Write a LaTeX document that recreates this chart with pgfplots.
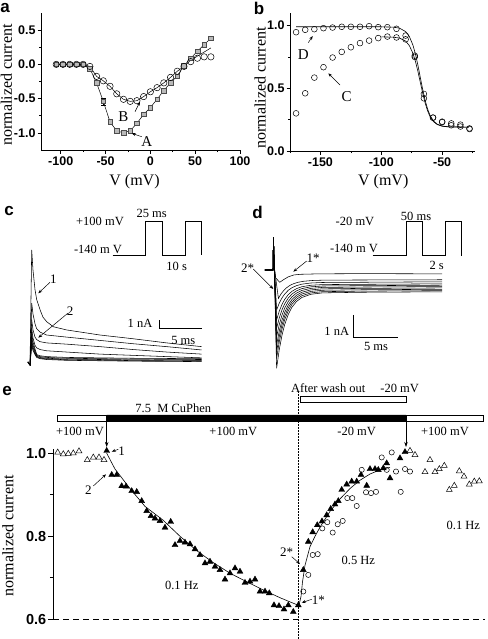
\documentclass[border=0pt]{standalone}
\usepackage{fontspec}
\setmainfont{Liberation Serif}
\setsansfont{Liberation Sans}
\usepackage{pgfplots}
\pgfplotsset{compat=1.18}
\usetikzlibrary{arrows.meta}
\newcommand\fs[1]{\fontsize{#1}{#1}\selectfont}
\pgfplotsset{
 panel/.style={scale only axis, axis x line*=bottom, axis y line*=left,
   tick align=outside, major tick length=3.5pt, minor tick length=2pt,
   every tick/.style={black, line width=0.6pt}, axis line style={line width=0.6pt},
   tick label style={font=\fs{12.5}\bfseries\sffamily},
   yticklabel style={xshift=1.5pt},
   label style={font=\fs{16}},
   /pgf/number format/assume math mode=true, clip=false},
 trace/.style={black, line width=0.55pt},
 hid/.style={hide axis, clip=false},
}
\begin{document}
\begin{tikzpicture}
\path[use as bounding box] (0pt,0pt) rectangle (487pt,-639pt);

% ---------------- panel a
\begin{axis}[panel, at={(41pt,-150pt)}, anchor=south west, width=199pt, height=137pt,
 xmin=-122, xmax=100, ymin=-1.25, ymax=0.75,
 xtick={-100,-50,0,50,100}, ytick={-1,-0.5,0,0.5},
 yticklabels={-1.0,-0.5,0.0,0.5},
 minor xtick={-75,-25,25,75}, minor ytick={-0.75,-0.25,0.25},
 xlabel={V (mV)}, ylabel={normalized current},
 xlabel style={at={(axis description cs:0.47,-0.231)}, anchor=center},
 ylabel style={at={(axis description cs:-0.174,0.474)}, anchor=center}]
\addplot[black, line width=0.5pt, mark=square*, mark size=2.3pt,
  mark options={fill=gray!55, draw=black!70, line width=0.4pt},
  error bars/.cd, y dir=both, y explicit, error bar style={line width=0.5pt}]
 table[x=V, y=I, y error=e] {
V I e
-105 0 0.01
-97.5 0 0.01
-90 0 0.01
-82.5 0 0.01
-75 0 0.01
-67.5 -0.06 0.02
-60 -0.27 0.04
-52.5 -0.54 0.05
-45 -0.84 0.04
-37.5 -0.97 0.03
-30 -1.0 0.03
-22.5 -0.97 0.03
-15 -0.86 0.03
-7.5 -0.73 0.03
0 -0.63 0.03
7.5 -0.51 0.03
15 -0.38 0.03
22.5 -0.27 0.03
30 -0.17 0.03
37.5 -0.02 0.03
45 0.09 0.03
52.5 0.19 0.03
60 0.29 0.03
67.5 0.38 0.03
};
\addplot[black, line width=0.5pt] coordinates {(-105,0)(-97.5,0)(-90,0)(-82.5,0)(-75,0)(-67.5,-0.03)(-60,-0.175)(-52.5,-0.24)(-45,-0.32)(-37.5,-0.43)(-30,-0.51)(-22.5,-0.54)(-15,-0.53)(-7.5,-0.47)(0,-0.40)(7.5,-0.34)(15,-0.27)(22.5,-0.19)(30,-0.10)(37.5,-0.03)(45,0.06)(52.5,0.12)(60,0.18)(67.5,0.24)};
\addplot[only marks, mark=o, mark size=3.2pt, mark options={line width=0.5pt}] coordinates {(-105,0)(-97.5,0)(-90,0)(-82.5,0)(-75,0)(-67.5,-0.03)(-60,-0.175)(-52.5,-0.24)(-45,-0.32)(-37.5,-0.43)(-30,-0.51)(-22.5,-0.54)(-15,-0.53)(-7.5,-0.47)(0,-0.40)(7.5,-0.34)(15,-0.27)(22.5,-0.19)(30,-0.10)(37.5,-0.03)(45,0.04)(52.5,0.09)(60,0.11)(67.5,0.11)};
\end{axis}

% ---------------- panel b
\begin{axis}[panel, at={(290pt,-151pt)}, anchor=south west, width=185pt, height=138pt,
 xmin=-175, xmax=-23, ymin=0, ymax=1.1,
 xtick={-150,-100,-50}, minor xtick={-175,-125,-75,-25},
 ytick={0,0.5,1}, minor ytick={0.25,0.75},
 yticklabels={0.0,0.5,1.0},
 xlabel={V (mV)}, ylabel={normalized current},
 xlabel style={at={(axis description cs:0.504,-0.22)}, anchor=center},
 ylabel style={at={(axis description cs:-0.162,0.457)}, anchor=center}]
\addplot[black, line width=0.6pt] coordinates {(-170,0.99)(-100,0.99)(-90,0.987)(-85,0.979)(-80,0.952)(-77,0.914)(-74,0.844)(-72,0.775)(-70,0.688)(-68,0.59)(-66,0.492)(-64,0.405)(-62,0.336)(-60,0.285)(-57,0.238)(-54,0.2135)(-50,0.199)(-45,0.193)(-28,0.19)};
\addplot[black, line width=0.6pt] coordinates {(-100,0.91)(-90,0.907)(-85,0.90)(-80,0.876)(-77,0.841)(-74,0.779)(-72,0.716)(-70,0.638)(-68,0.55)(-66,0.462)(-64,0.384)(-62,0.321)(-60,0.276)(-57,0.233)(-54,0.211)(-50,0.198)(-45,0.192)(-28,0.19)};
\addplot[only marks, mark=o, mark size=2.9pt, mark options={line width=0.5pt}] coordinates {(-170,0.947)(-162.5,0.966)(-155,0.971)(-147.5,0.979)(-140,0.984)(-132.5,0.99)(-125,0.99)(-117.5,0.99)(-110,0.995)(-102.5,0.987)(-95,0.987)(-87.5,0.974)(-80,0.92)(-72.5,0.75)(-65,0.455)(-57.5,0.266)(-50,0.234)(-42.5,0.22)(-35,0.21)(-27.5,0.18)};
\addplot[only marks, mark=o, mark size=2.9pt, mark options={line width=0.5pt}] coordinates {(-170,0.30)(-162.5,0.46)(-155,0.585)(-147.5,0.668)(-140,0.745)(-132.5,0.79)(-125,0.827)(-117.5,0.86)(-110,0.88)(-102.5,0.90)(-95,0.912)(-87.5,0.905)(-80,0.89)(-72.5,0.76)(-65,0.42)(-57.5,0.266)(-50,0.23)(-42.5,0.205)(-35,0.195)(-27.5,0.175)};
\end{axis}

% ---------------- panel c (t in ms, I in nA)
\begin{axis}[hid, at={(21.5pt,-370.3pt)}, anchor=south west, x=8.5pt, y=8.3pt,
 xmin=-1, xmax=21, ymin=-1, ymax=17.5]
\addplot[trace] coordinates {(-0.24,0)(0,-0.36)(0.2,13.5)(0.35,11.1)(0.59,8.7)(0.79,7.5)(1.18,6.3)(1.53,5.4)(1.96,4.86)(2.74,4.25)(4.32,3.86)(8.24,3.25)(12.15,2.8)(16.08,2.3)(20.2,1.85)};
\addplot[trace] coordinates {(-0.24,0)(0,-0.36)(0.2,7.1)(0.35,5.8)(0.59,4.6)(0.79,4.0)(1.18,3.6)(1.96,3.25)(4.32,3.0)(8.24,2.6)(12.15,2.2)(16.08,1.85)(20.2,1.45)};
\addplot[trace] coordinates {(-0.24,0)(0,-0.36)(0.2,5.1)(0.35,3.9)(0.59,3.0)(0.79,2.7)(1.18,2.45)(1.96,2.3)(4.32,2.15)(8.24,1.85)(12.15,1.5)(16.08,1.2)(20.2,0.95)};
\addplot[trace] coordinates {(-0.24,0)(0,-0.36)(0.2,4.1)(0.35,2.9)(0.59,2.0)(0.79,1.7)(1.18,1.5)(1.96,1.35)(4.32,1.2)(8.24,0.95)(12.15,0.8)(16.08,0.65)(20.2,0.5)};
\addplot[trace] coordinates {(-0.24,0)(0,-0.36)(0.2,3.5)(0.35,2.45)(0.59,1.58)(0.79,0.9)(1.18,0.75)(1.96,0.65)(4.32,0.55)(8.24,0.5)(12.15,0.45)(20.2,0.4)};
\addplot[trace] coordinates {(-0.24,0)(0,-0.36)(0.2,3.0)(0.35,2.1)(0.59,1.35)(0.79,0.8)(1.18,0.65)(1.96,0.55)(4.32,0.45)(8.24,0.4)(12.15,0.35)(20.2,0.3)};
\addplot[trace] coordinates {(-0.24,0)(0,-0.36)(0.2,2.6)(0.35,1.82)(0.59,1.17)(0.79,0.7)(1.18,0.55)(1.96,0.45)(4.32,0.35)(8.24,0.3)(12.15,0.25)(20.2,0.2)};
\addplot[trace] coordinates {(-0.24,0)(0,-0.36)(0.2,2.3)(0.35,1.6)(0.59,1.0)(0.79,0.62)(1.18,0.47)(1.96,0.37)(4.32,0.27)(8.24,0.22)(12.15,0.17)(20.2,0.12)};
\addplot[trace] coordinates {(-0.24,0)(0,-0.36)(0.2,2.0)(0.35,1.4)(0.59,0.9)(0.79,0.55)(1.18,0.4)(1.96,0.3)(4.32,0.2)(8.24,0.15)(12.15,0.1)(20.2,0.05)};
\addplot[black, line width=0.6pt] coordinates {(9.73,12.89)(13.61,12.89)(13.61,16.9)(15.56,16.9)(15.56,12.89)(18.24,12.89)(18.24,16.9)(20.12,16.9)(20.12,12.89)};
\addplot[black, line width=0.6pt] coordinates {(15.18,5.06)(15.18,4.06)(20.2,4.06)};
\end{axis}

% ---------------- panel d (t in ms, I in nA)
\begin{axis}[hid, at={(255pt,-374.42pt)}, anchor=south west, x=9pt, y=22.7pt,
 xmin=-2, xmax=22, ymin=-4.6, ymax=2.5]
\addplot[trace] coordinates {(-0.9,0)(0,0)(0.05,1.45)(0.15,0.1)(0.3,-0.35)(0.75,-0.54)(1.2,-0.42)(1.7,-0.3)(2.3,-0.22)(3,-0.19)(5,-0.17)(10,-0.16)(18.8,-0.17)};
\addplot[trace] coordinates {(-0.9,0)(0,0)(0.05,1.45)(0.15,0.1)(0.6,-1.25)(0.9,-1.048)(1.2,-0.898)(1.5,-0.783)(1.9,-0.675)(2.3,-0.6)(2.8,-0.54)(3.4,-0.496)(4.4,-0.462)(5.7,-0.446)(10,-0.44)(18.8,-0.43)};
\addplot[trace] coordinates {(-0.9,0)(0,0)(0.05,1.45)(0.15,0.1)(0.4,-1.76)(0.7,-1.456)(1.0,-1.229)(1.3,-1.057)(1.7,-0.894)(2.1,-0.782)(2.6,-0.69)(3.2,-0.624)(4.2,-0.573)(5.5,-0.55)(10,-0.54)(18.8,-0.52)};
\addplot[trace] coordinates {(-0.9,0)(0,0)(0.05,1.45)(0.15,0.1)(0.4,-2.2)(0.7,-1.809)(1.0,-1.517)(1.3,-1.296)(1.7,-1.085)(2.1,-0.941)(2.6,-0.823)(3.2,-0.738)(4.2,-0.672)(5.5,-0.643)(10,-0.63)(18.8,-0.61)};
\addplot[trace] coordinates {(-0.9,0)(0,0)(0.05,1.45)(0.15,0.1)(0.4,-2.57)(0.7,-2.102)(1.0,-1.752)(1.3,-1.487)(1.7,-1.235)(2.1,-1.062)(2.6,-0.921)(3.2,-0.82)(4.2,-0.741)(5.5,-0.705)(10,-0.69)(18.8,-0.67)};
\addplot[trace] coordinates {(-0.9,0)(0,0)(0.05,1.45)(0.15,0.1)(0.4,-2.94)(0.7,-2.395)(1.0,-1.987)(1.3,-1.679)(1.7,-1.385)(2.1,-1.184)(2.6,-1.019)(3.2,-0.901)(4.2,-0.809)(5.5,-0.768)(10,-0.75)(18.8,-0.73)};
\addplot[trace] coordinates {(-0.9,0)(0,0)(0.05,1.45)(0.15,0.1)(0.4,-3.3)(0.7,-2.68)(1.0,-2.217)(1.3,-1.866)(1.7,-1.532)(2.1,-1.303)(2.6,-1.116)(3.2,-0.982)(4.2,-0.877)(5.5,-0.83)(10,-0.81)(18.8,-0.79)};
\addplot[trace] coordinates {(-0.9,0)(0,0)(0.05,1.45)(0.15,0.1)(0.4,-3.6)(0.7,-2.92)(1.0,-2.412)(1.3,-2.028)(1.7,-1.662)(2.1,-1.411)(2.6,-1.206)(3.2,-1.058)(4.2,-0.944)(5.5,-0.892)(10,-0.87)(18.8,-0.85)};
\addplot[trace] coordinates {(-0.9,0)(0,0)(0.05,1.45)(0.15,0.1)(0.4,-3.9)(0.7,-3.16)(1.0,-2.608)(1.3,-2.189)(1.7,-1.791)(2.1,-1.518)(2.6,-1.295)(3.2,-1.135)(4.2,-1.01)(5.5,-0.954)(10,-0.93)(18.8,-0.91)};
\addplot[trace] coordinates {(-0.9,0)(0,0)(0.05,1.45)(0.15,0.1)(0.4,-4.33)(0.7,-3.496)(1.0,-2.873)(1.3,-2.40)(1.7,-1.952)(2.1,-1.643)(2.6,-1.392)(3.2,-1.211)(4.2,-1.07)(5.5,-1.007)(10,-0.98)(18.8,-0.96)};
\addplot[black, line width=0.6pt] coordinates {(11.08,0.63)(14.78,0.63)(14.78,2.13)(16.63,2.13)(16.63,0.63)(19.11,0.63)(19.11,2.13)(20.97,2.13)(20.97,0.63)};
\addplot[black, line width=0.6pt] coordinates {(8.92,-1.98)(8.92,-2.98)(13.92,-2.98)};
\end{axis}

% ---------------- panel e
\begin{axis}[panel, at={(53.3pt,-619.3pt)}, anchor=south west, width=431.7pt, height=170.2pt,
 xmin=53.3, xmax=485, ymin=0.6, ymax=1.01,
 axis x line=none, xtick=\empty,
 ytick={0.6,0.8,1.0}, minor ytick={0.7,0.9}, major tick length=5pt, minor tick length=3.5pt,
 yticklabels={0.6,0.8,1.0},
 tick label style={font=\fs{14.5}\bfseries\sffamily},
 ylabel={normalized current},
 ylabel style={at={(axis description cs:-0.105,0.49)}, anchor=center}]
\addplot[draw=black, fill=white, line width=0.6pt] coordinates {(57.3,1.0778)(483.3,1.0778)(483.3,1.0923)(57.3,1.0923)(57.3,1.0778)};
\addplot[draw=black, fill=black, line width=0.6pt] coordinates {(106.7,1.0778)(406,1.0778)(406,1.0923)(106.7,1.0923)(106.7,1.0778)};
\addplot[draw=black, fill=white, line width=0.6pt] coordinates {(300,1.1236)(406,1.1236)(406,1.1369)(300,1.1369)(300,1.1236)};
\addplot[black, densely dotted, line width=0.5pt] coordinates {(298.3,0.5535)(298.3,1.1525)};
\addplot[black, dashed, dash pattern=on 6pt off 4pt, line width=0.6pt] coordinates {(53.3,0.6)(485,0.6)};
\addplot[black, line width=0.5pt, -{Stealth[length=5pt,width=3.5pt]}] coordinates {(106.7,1.0778)(106.7,1.0152)};
\addplot[black, line width=0.5pt, -{Stealth[length=5pt,width=3.5pt]}] coordinates {(406,1.0778)(406,1.0152)};
\addplot[black, line width=0.6pt] coordinates {(106.7,1.0)(115,0.962)(130,0.915)(145,0.872)(163,0.839)(180,0.8)(197,0.765)(213,0.737)(230,0.711)(247,0.69)(263,0.671)(280,0.652)(293,0.639)(298.3,0.634)};
\addplot[black, line width=0.6pt] coordinates {(299,0.634)(301,0.655)(302.5,0.69)(305,0.73)(310,0.775)(315,0.80)(320,0.822)(330,0.86)(340,0.89)(350,0.915)(360,0.935)(370,0.95)(380,0.96)(390,0.966)};
\addplot[only marks, mark=triangle, mark size=3.4pt, mark options={line width=0.5pt}] coordinates {(57.7,1.002)(63.3,0.998)(68.3,0.999)(73.3,1.0)(79,1.005)(87.3,0.984)(93.3,0.99)(99,0.99)(104,0.984)(410,1.006)(415,0.996)(425,0.955)(430,0.984)(435,0.955)(439.3,0.962)(444.3,0.97)(449.3,0.912)(454.3,0.922)(459.3,0.957)(464,0.944)(469.3,0.925)(474.3,0.932)(479.3,0.933)};
\addplot[only marks, mark=triangle*, mark size=3.4pt, mark options={fill=black}] coordinates {(106.7,1.006)(111.7,0.948)(116.7,0.948)(121.7,0.921)(126,0.92)(131.7,0.909)(136.7,0.907)(141.7,0.885)(146.7,0.861)(151,0.849)(155,0.843)(160,0.837)(165,0.821)(170.7,0.835)(175,0.779)(180,0.789)(185,0.785)(190,0.781)(195,0.769)(200,0.755)(205,0.735)(210,0.739)(215,0.727)(220,0.719)(225,0.696)(230,0.711)(235,0.723)(240,0.715)(245,0.688)(250,0.691)(255,0.696)(260,0.667)(265,0.667)(269.3,0.663)(274,0.634)(279,0.632)(284,0.624)(288.3,0.634)(293.3,0.618)(298.3,0.634)(303.3,0.719)(308.3,0.787)(312.7,0.81)(317.3,0.827)(322,0.836)(326.7,0.851)(330.7,0.866)(335,0.877)(338.3,0.885)(341.7,0.912)(346.7,0.925)(351.7,0.932)(356.7,0.932)(361,0.948)(366.7,0.922)(370,0.962)(375,0.962)(378.3,0.96)(383.3,0.964)(386.7,0.976)(390,0.94)(400,0.988)(405,1.003)};
\addplot[only marks, mark=o, mark size=2.6pt, mark options={line width=0.5pt}] coordinates {(303.3,0.667)(308.3,0.707)(312.7,0.755)(317.7,0.757)(322.3,0.819)(327.3,0.834)(332.7,0.809)(337.7,0.829)(342.7,0.837)(347.3,0.892)(352.3,0.892)(356.7,0.873)(361.7,0.96)(366,0.906)(371,0.904)(376,0.907)(381.7,0.99)(386.7,0.96)(391.7,1.002)(396,0.956)(400.7,0.907)(405,0.962)(410,0.956)};
\end{axis}

% ---------------- annotations (pixel coordinates)
\begin{scope}[x=1pt, y=-1pt, font=\fs{12.5}, >={Stealth[length=4pt,width=3pt]}]
\node[font=\fs{17}\bfseries\sffamily, anchor=base] at (5,13) {a};
\node[font=\fs{17}\bfseries\sffamily, anchor=base] at (259,15) {b};
\node[font=\fs{17}\bfseries\sffamily, anchor=base] at (9,215) {c};
\node[font=\fs{17}\bfseries\sffamily, anchor=base] at (257.5,218) {d};
\node[font=\fs{17}\bfseries\sffamily, anchor=base] at (7,395) {e};
\node[font=\fs{15}] at (123.3,116.7) {B};
\draw[->, line width=0.5pt] (135,111.7) -- (140,101.7);
\node[font=\fs{15}] at (146.7,141.7) {A};
\draw[->, line width=0.5pt] (141.7,136.7) -- (131.7,133.3);
\node[font=\fs{15}] at (303.3,55) {D};
\draw[->, line width=0.5pt] (308.3,42.7) -- (312.7,36);
\node[font=\fs{15}] at (346.7,96.7) {C};
\draw[->, line width=0.5pt] (340,85) -- (328.3,73.3);
\node at (100,221.7) {+100 mV};
\node at (98,249) {-140 m V};
\node at (151.7,213.3) {25 ms};
\node at (176.7,266.7) {10 s};
\node at (140,323.3) {1 nA};
\node at (183.3,340) {5 ms};
\node[font=\fs{13}] at (53.3,279) {1};
\draw[->, line width=0.5pt] (50,282.3) -- (38.3,293.3);
\node[font=\fs{13}] at (70,310.7) {2};
\draw[->, line width=0.5pt] (67.7,313.3) -- (38.3,337.7);
\node at (355,221.7) {-20 mV};
\node at (354,248.3) {-140 m V};
\node at (416,216.7) {50 ms};
\node at (436.7,265) {2 s};
\node at (336.7,331.7) {1 nA};
\node at (376,346.7) {5 ms};
\node[font=\fs{13}] at (313,258.3) {1*};
\draw[->, line width=0.5pt] (306.7,261) -- (293.3,271.7);
\node[font=\fs{13}] at (247.5,267.7) {2*};
\draw[->, line width=0.5pt] (253.3,269) -- (273.3,289);
\node at (355,388.3) {After wash out\hspace{1.2em}-20 mV};
\node at (173.3,408.3) {7.5\ \ M CuPhen};
\node at (80,431.7) {+100 mV};
\node at (233.3,431.7) {+100 mV};
\node at (356.7,431.7) {-20 mV};
\node at (445,431.7) {+100 mV};
\node[font=\fs{13}] at (121.7,451) {1};
\draw[->, line width=0.5pt] (118.3,449.3) -- (111.7,451.7);
\node[font=\fs{13}] at (88.3,490) {2};
\draw[->, line width=0.5pt] (93.3,486) -- (106,474.3);
\node at (181.7,585) {0.1 Hz};
\node[font=\fs{13}] at (286.7,551.7) {2*};
\draw[->, line width=0.5pt] (291.7,556.7) -- (300,564);
\node at (358.3,560) {0.5 Hz};
\node[font=\fs{13}] at (318.3,600) {1*};
\draw[->, line width=0.5pt] (311.7,599.3) -- (301.7,602.7);
\node at (463.3,525) {0.1 Hz};
\end{scope}
\end{tikzpicture}
\end{document}
